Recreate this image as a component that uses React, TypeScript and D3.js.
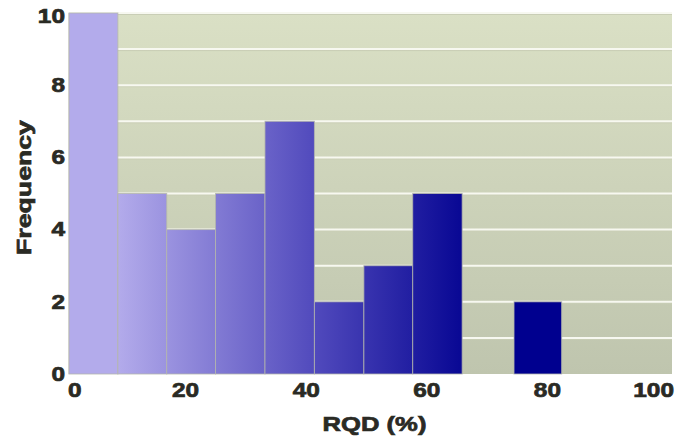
import React from "react";
import * as d3 from "d3";

const binEdges = [0, 8.1, 16.2, 24.3, 32.5, 40.7, 48.9, 57.0, 65.2, 73.8, 81.7];
const frequencies = [10, 5, 4, 5, 7, 2, 3, 5, 0, 2];
const xTicks = [0, 20, 40, 60, 80, 100];
const yTicks = [0, 2, 4, 6, 8, 10];
const gridValues = [1, 2, 3, 4, 5, 6, 7, 8, 9, 10];

const W = 683;
const H = 439;
const M = { left: 69, right: 11, top: 13, bottom: 65 };

export default function App() {
  const x = d3.scaleLinear().domain([0, 100]).range([M.left, W - M.right]);
  const y = d3.scaleLinear().domain([0, 10]).range([H - M.bottom, M.top]);
  const bins = frequencies.map((f, i) => ({ x0: binEdges[i], x1: binEdges[i + 1], f }));
  const textColor = "#2a2a24";
  const sx = 1.22;
  const font = "'Liberation Sans', Arial, sans-serif";
  const heavy = { stroke: textColor, strokeWidth: 0.7, paintOrder: "stroke" } as any;

  return (
    <svg width={W} height={H} style={{ position: "fixed", left: 0, top: 0, background: "#fff" }}>
      <defs>
        <linearGradient id="bg" x1="0" y1="0" x2="0" y2="1">
          <stop offset="0" stopColor="#dae0c5" />
          <stop offset="1" stopColor="#bfc5ae" />
        </linearGradient>
        <linearGradient id="bars" gradientUnits="userSpaceOnUse" x1={x(8.1)} y1="0" x2={x(68)} y2="0">
          <stop offset="0" stopColor="#b3abeb" />
          <stop offset="0.55" stopColor="#5049bc" />
          <stop offset="1" stopColor="#00008f" />
        </linearGradient>
      </defs>
      <rect x={x(0)} y={y(10)} width={x(100) - x(0)} height={y(0) - y(10)} fill="url(#bg)" />
      {gridValues.map((g) => (
        <g key={g}>
          <line x1={x(0)} x2={x(100)} y1={y(g) + 1.5} y2={y(g) + 1.5} stroke="#c9ceb6" strokeWidth={1} />
          <line x1={x(0)} x2={x(100)} y1={y(g)} y2={y(g)} stroke="#f7f8f0" strokeWidth={2} />
        </g>
      ))}
      <line x1={x(0)} x2={x(0)} y1={y(10)} y2={y(0)} stroke="#c8c8c0" strokeWidth={1} />
      {bins.filter((b) => b.f > 0).map((b, i) => (
        <rect
          key={i}
          x={x(b.x0)}
          y={y(b.f)}
          width={x(b.x1) - x(b.x0)}
          height={y(0) - y(b.f)}
          fill="url(#bars)"
          stroke="#b4b6ac"
          strokeOpacity={0.8}
          strokeWidth={1}
        />
      ))}
      {yTicks.map((t) => (
        <text
          key={t}
          transform={`translate(65,${y(t) + (t === 10 ? 3 : 0)}) scale(${sx},1)`}
          textAnchor="end"
          dominantBaseline="central"
          fontFamily={font}
          fontWeight="bold"
          fontSize={20}
          fill={textColor}
          {...heavy}
        >
          {t}
        </text>
      ))}
      {xTicks.map((t) => (
        <text
          key={t}
          transform={`translate(${t === 0 ? x(t) - 1 : t === 100 ? x(t) + 2 : x(t) - 4},${y(0) + 16}) scale(${sx},1)`}
          textAnchor={t === 0 ? "start" : t === 100 ? "end" : "middle"}
          dominantBaseline="central"
          fontFamily={font}
          fontWeight="bold"
          fontSize={20}
          fill={textColor}
          {...heavy}
        >
          {t}
        </text>
      ))}
      <text
        transform={`translate(${(x(0) + x(100)) / 2 + 4},431) scale(${sx},1)`}
        textAnchor="middle"
        fontFamily={font}
        fontWeight="bold"
        fontSize={21}
        fill={textColor}
        {...heavy}
      >
        RQD (%)
      </text>
      <text
        transform={`translate(31,${(y(0) + y(10)) / 2 - 6}) rotate(-90) scale(1.27,1)`}
        textAnchor="middle"
        fontFamily={font}
        fontWeight="bold"
        fontSize={21}
        fill={textColor}
        {...heavy}
      >
        Frequency
      </text>
    </svg>
  );
}
